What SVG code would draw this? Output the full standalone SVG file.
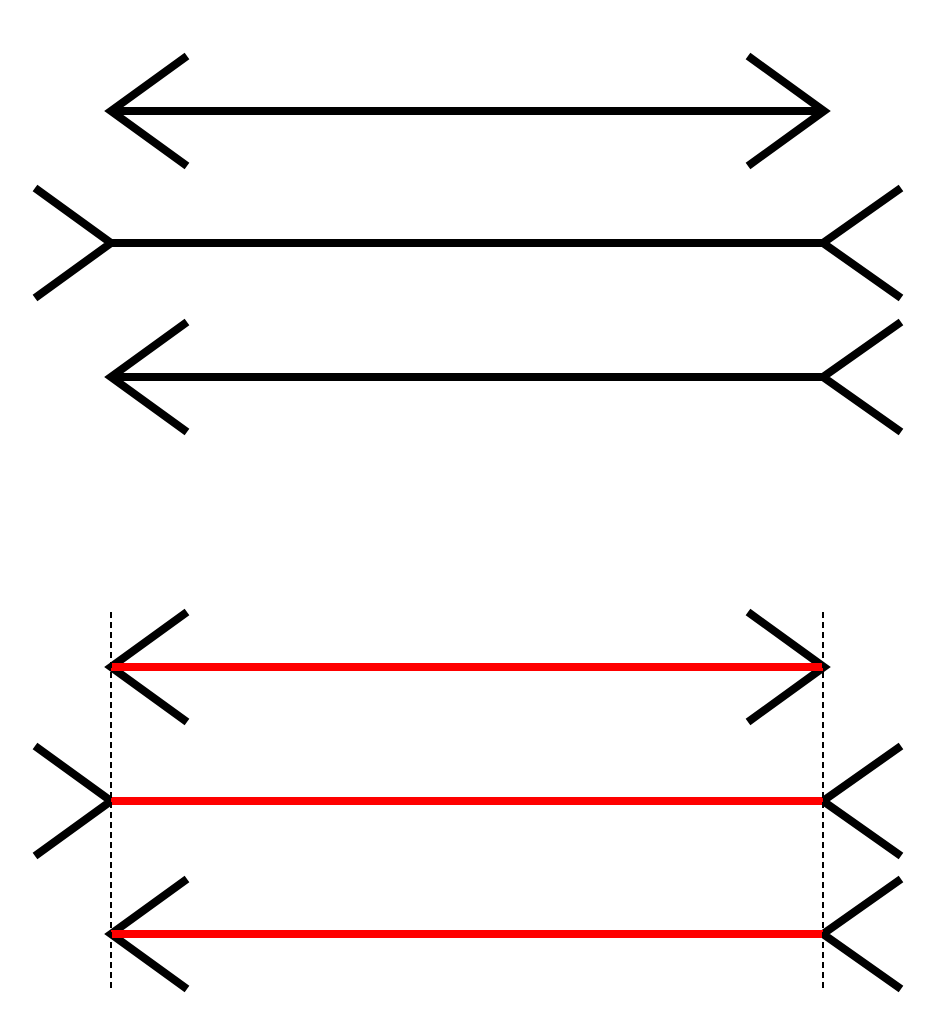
<svg xmlns="http://www.w3.org/2000/svg" width="935" height="1024" viewBox="0 0 935 1024">
<style>
.k{fill:none;stroke:#000;stroke-width:8;stroke-linejoin:miter;stroke-miterlimit:10}
.r{fill:none;stroke:#f00;stroke-width:8}
.d{fill:none;stroke:#000;stroke-width:2;stroke-dasharray:6,4}
</style>
<rect width="935" height="1024" fill="#fff"/>
<g id="fig1">
<path class="k" d="M111,111H823M187,56L111,111L187,166M748,56L824,111L748,166"/>
<path class="k" d="M111,243H823M35,188L111,243L35,298M901,188L823,243L901,298"/>
<path class="k" d="M111,377H823M187,322L111,377L187,432M901,322L823,377L901,432"/>
</g>
<g id="fig2">
<path class="k" d="M187,612L111,667L187,722M748,612L824,667L748,722"/>
<path class="k" d="M35,746L111,801L35,856M901,746L823,801L901,856"/>
<path class="k" d="M187,879L111,934L187,989M901,879L823,934L901,989"/>
<path class="r" d="M111,667H823M111,801H823M111,934H823"/>
<path class="d" d="M111,612V990M823,612V990"/>
</g>
</svg>
